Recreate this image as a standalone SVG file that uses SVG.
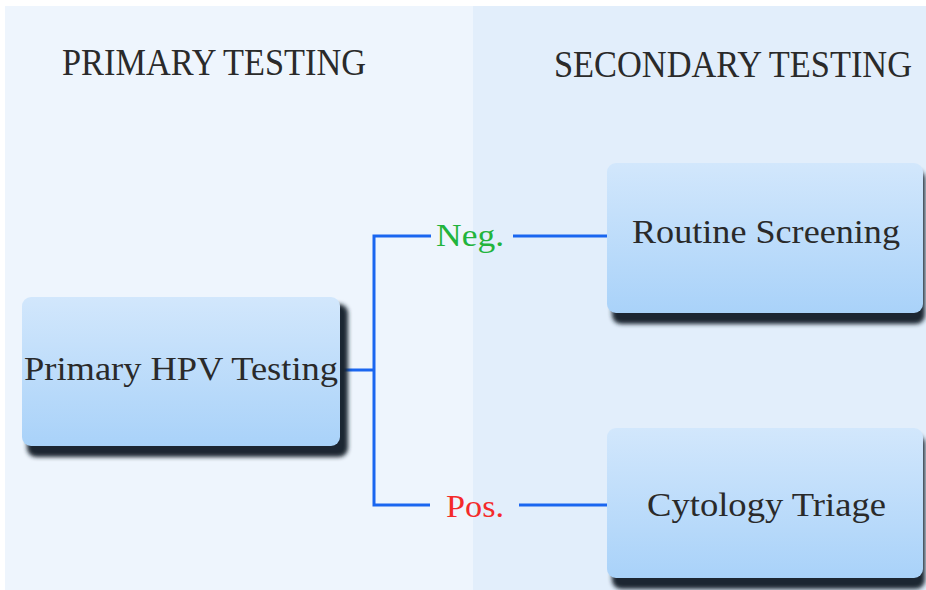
<svg xmlns="http://www.w3.org/2000/svg" width="926" height="590" viewBox="0 0 926 590">
<style>
.title{font-family:"Liberation Serif","DejaVu Serif",serif;font-size:32px;fill:#2a2a2a}
.lbl{font-family:"Liberation Serif","DejaVu Serif",serif;font-size:34px;fill:#2a2a2a}
.edge{font-family:"Liberation Serif","DejaVu Serif",serif;font-size:32px}
.conn{stroke:#1a66f0;stroke-width:3;fill:none}
.box{fill:url(#boxg)}
</style>
<defs>
<linearGradient id="boxg" x1="0" y1="0" x2="0" y2="1">
<stop offset="0" stop-color="#d2e7fc"/>
<stop offset="1" stop-color="#a9d2f9"/>
</linearGradient>
<filter id="sh" x="-10%" y="-10%" width="130%" height="140%">
<feGaussianBlur stdDeviation="2"/>
</filter>
</defs>
<rect x="0" y="0" width="926" height="590" fill="#ffffff"/>
<rect x="5" y="6" width="468" height="584" fill="#eef5fd"/>
<rect x="473" y="6" width="453" height="584" fill="#e2eefb"/>
<text class="title" transform="translate(62,75) scale(1,1.18)" x="0" y="0" textLength="304" lengthAdjust="spacingAndGlyphs">PRIMARY TESTING</text>
<text class="title" transform="translate(554,77) scale(1,1.18)" x="0" y="0" textLength="358" lengthAdjust="spacingAndGlyphs">SECONDARY TESTING</text>
<g id="connectors">
<polyline class="conn" points="340,370 374,370"/>
<polyline class="conn" points="431,236 374,236 374,505 430,505"/>
<line class="conn" x1="513" y1="236" x2="607" y2="236"/>
<line class="conn" x1="519" y1="505" x2="607" y2="505"/>
<text class="edge" x="436" y="246" fill="#22b43c" textLength="68" lengthAdjust="spacingAndGlyphs">Neg.</text>
<text class="edge" x="446" y="517" fill="#f42a2a" textLength="58" lengthAdjust="spacingAndGlyphs">Pos.</text>
</g>
<g id="primary">
<rect x="27" y="304" width="321" height="153" rx="9" fill="#1a2530" filter="url(#sh)"/>
<rect class="box" x="22" y="297" width="318" height="149" rx="9"/>
<text class="lbl" x="24" y="380" textLength="314" lengthAdjust="spacingAndGlyphs">Primary HPV Testing</text>
</g>
<g id="routine">
<rect x="612" y="170" width="313" height="154" rx="9" fill="#1a2530" filter="url(#sh)"/>
<rect class="box" x="607" y="163" width="316" height="150" rx="9"/>
<text class="lbl" x="632" y="243" textLength="268" lengthAdjust="spacingAndGlyphs">Routine Screening</text>
</g>
<g id="cytology">
<rect x="612" y="435" width="313" height="154" rx="9" fill="#1a2530" filter="url(#sh)"/>
<rect class="box" x="607" y="428" width="316" height="150" rx="9"/>
<text class="lbl" x="647" y="516" textLength="239" lengthAdjust="spacingAndGlyphs">Cytology Triage</text>
</g>
</svg>
